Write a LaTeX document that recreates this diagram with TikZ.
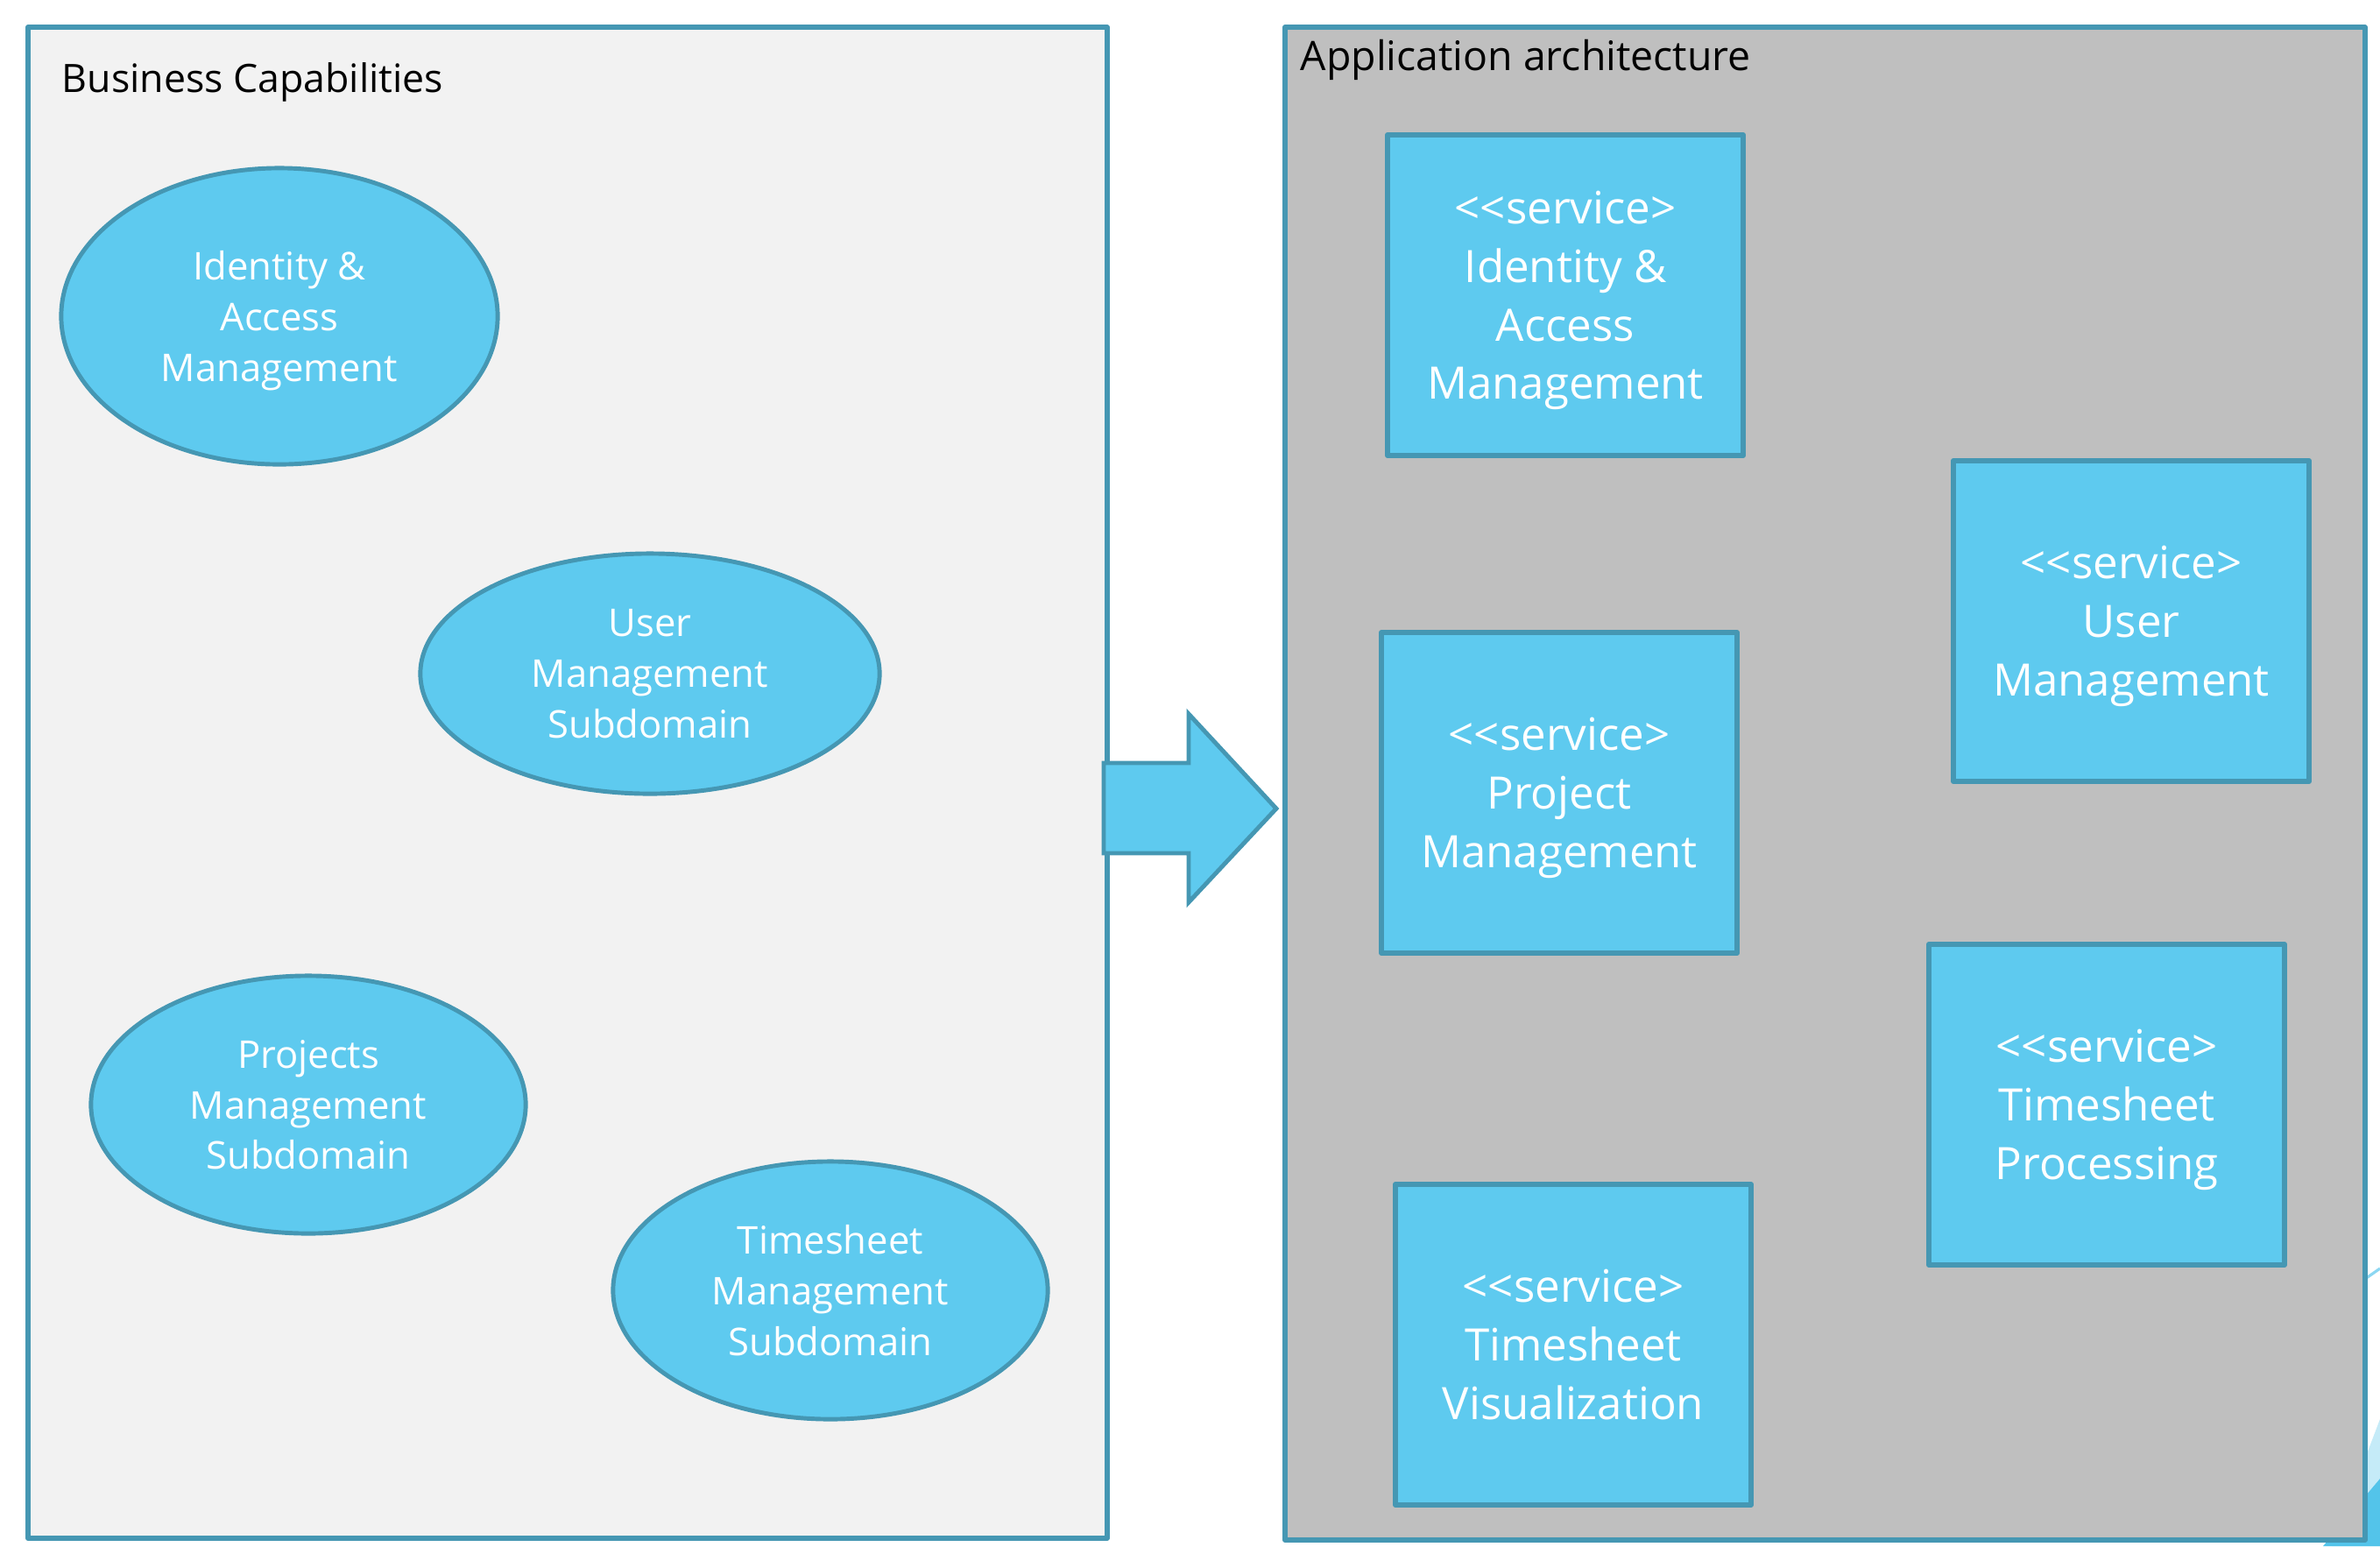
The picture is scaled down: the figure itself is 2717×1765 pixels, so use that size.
\documentclass[tikz,border=0pt]{standalone}
\usepackage{fontspec}
\setmainfont{Open Sans}[Ligatures=TeXOff]
\usetikzlibrary{shapes.geometric,positioning}
\definecolor{bluefill}{RGB}{94,202,239}
\definecolor{blueedge}{RGB}{69,151,179}
\definecolor{leftback}{RGB}{242,242,242}
\definecolor{rightback}{RGB}{191,191,191}
\definecolor{decoline}{RGB}{140,215,242}
\definecolor{decolight}{RGB}{197,235,248}
\definecolor{decodark}{RGB}{83,196,234}
\tikzset{
	frame/.style = {
			rectangle,
			draw       = blueedge,
			line width = 1.7pt,
			line join  = round,
			anchor     = north west,
			inner sep  = 0pt,
		},
	capability/.style = {
			ellipse,
			draw       = blueedge,
			fill       = bluefill,
			line width = 1.4pt,
			text       = white,
			align      = center,
			inner sep  = 0pt,
			text depth = 0pt,
			font       = \fontsize{12.4}{16.4}\selectfont,
		},
	service/.style = {
			rectangle,
			draw           = blueedge,
			fill           = bluefill,
			line width     = 1.6pt,
			line join      = round,
			text           = white,
			align          = center,
			minimum width  = 4.06cm,
			minimum height = 3.66cm,
			inner sep      = 0pt,
			text depth     = 0pt,
			font           = \fontsize{14.5}{19}\selectfont,
		},
	frametitle/.style = {
			anchor    = base west,
			inner sep = 0pt,
			font      = \fontsize{12.7}{15}\selectfont,
		},
}
\begin{document}
\begin{tikzpicture}[x=0.01cm,y=-0.01cm]
	\useasboundingbox (0,0) rectangle (2717,1765);

	% Background corner decoration
	\draw[decoline, line width=0.9pt] (2680,1474) -- (2717,1448);
	\fill[decolight] (2717,1620) -- (2662,1765) -- (2717,1765) -- cycle;
	\fill[decodark] (2717,1688) -- (2652,1765) -- (2717,1765) -- cycle;

	% Frames
	\node[frame, fill=leftback, minimum width=12.31cm, minimum height=17.24cm] (bizframe) at (29,28) {};
	\node[frame, fill=rightback, minimum width=12.32cm, minimum height=17.26cm] (appframe) at (1464,28) {};
	\node[frametitle] (biztitle) at (70,105) {Business Capabilities};
	\node[frametitle, font=\fontsize{13.2}{15}\selectfont] (apptitle) at (1484,80) {Application architecture};

	% Business capabilities
	\node[capability, minimum width=4.98cm, minimum height=3.38cm] (capiam) at (319,361) {Identity \&\\Access\\Management};
	\node[capability, minimum width=5.24cm, minimum height=2.74cm] (capuser) at (742,769) {User\\Management\\Subdomain};
	\node[capability, minimum width=4.96cm, minimum height=2.94cm] (capproj) at (352,1261) {Projects\\Management\\Subdomain};
	\node[capability, minimum width=4.96cm, minimum height=2.94cm] (captime) at (948,1473) {Timesheet\\Management\\Subdomain};

	% Services
	\node[service] (sviam) at (1787,337) {<<service>\\Identity \&\\Access\\Management};
	\node[service] (svuser) at (2433,709) {<<service>\\User\\Management};
	\node[service] (svproj) at (1780,905) {<<service>\\Project\\Management};
	\node[service] (svproc) at (2405,1261) {<<service>\\Timesheet\\Processing};
	\node[service] (svvis) at (1796,1535) {<<service>\\Timesheet\\Visualization};

	% Block arrow between the frames
	\draw[draw=blueedge, fill=bluefill, line width=1.4pt, line join=miter]
		(1260,871) -- (1357,871) -- (1357,815) -- (1457,923) -- (1357,1030) -- (1357,974) -- (1260,974) -- cycle;
\end{tikzpicture}
\end{document}
